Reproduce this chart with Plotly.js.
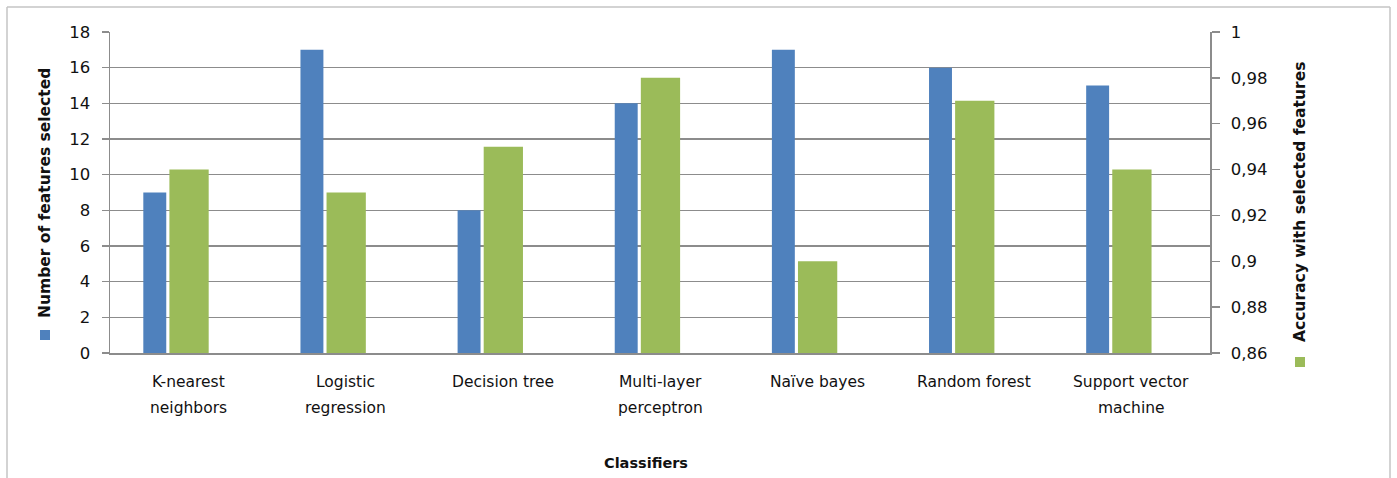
<!DOCTYPE html>
<html>
<head>
<meta charset="utf-8">
<script src="https://cdn.plot.ly/plotly-3.0.1.min.js"></script>
<style>
  html, body { margin: 0; padding: 0; background: #ffffff; }
  #chart { width: 1397px; height: 478px; }
</style>
</head>
<body>
<div id="chart"></div>
<script>
// Classifier names, split into the lines shown under each group
const categoryLines = [
  ["K-nearest", "neighbors"],
  ["Logistic", "regression"],
  ["Decision tree"],
  ["Multi-layer", "perceptron"],
  ["Naïve bayes"],
  ["Random forest"],
  ["Support vector", "machine"]
];
const categories = categoryLines.map(l => l.join(" "));

// Number of features kept by each classifier (left axis)
const featuresSelected = [9, 17, 8, 14, 17, 16, 15];
// Accuracy reached with those features (right axis)
const accuracy = [0.94, 0.93, 0.95, 0.98, 0.90, 0.97, 0.94];

// Axis ticks
const leftTicks = [0, 2, 4, 6, 8, 10, 12, 14, 16, 18];
const rightTicks = [0.86, 0.88, 0.9, 0.92, 0.94, 0.96, 0.98, 1];
const rightTickText = ["0,86", "0,88", "0,9", "0,92", "0,94", "0,96", "0,98", "1"];

const leftTitle = "Number of features selected";
const rightTitle = "Accuracy with selected features";
const xTitle = "Classifiers";

const BLUE = "#4F81BD";
const GREEN = "#9BBB59";
const GRID = "#8C8C8C";
const TEXT = "#111111";
const FONT = "DejaVu Sans, sans-serif";

// plot-area geometry in pixels (used to place the frame and keys in paper units)
const L = 110, R = 1210, T = 32, B = 353;
const px = x => (x - L) / (R - L);
const py = y => (B - y) / (B - T);

const traces = [
  {
    type: "bar",
    name: leftTitle,
    x: categories,
    y: featuresSelected,
    yaxis: "y",
    offset: -0.288,
    width: 0.146,
    marker: { color: BLUE },
    hoverinfo: "x+y"
  },
  {
    type: "bar",
    name: rightTitle,
    x: categories,
    y: accuracy,
    yaxis: "y2",
    offset: -0.122,
    width: 0.25,
    marker: { color: GREEN },
    hoverinfo: "x+y"
  }
];

const annotations = [];
categoryLines.forEach((lines, i) => {
  const ys = lines.length === 2 ? [py(382), py(408)] : [py(382)];
  lines.forEach((line, j) => {
    annotations.push({
      x: categories[i], xref: "x",
      y: ys[j], yref: "paper",
      text: line, showarrow: false,
      xanchor: "center", yanchor: "middle",
      font: { family: FONT, size: 15.5, color: TEXT }
    });
  });
});

annotations.push({
  x: px(646), xref: "paper", y: py(463), yref: "paper",
  text: "<b>" + xTitle + "</b>", showarrow: false,
  xanchor: "center", yanchor: "middle",
  font: { family: FONT, size: 14.5, color: TEXT }
});
annotations.push({
  x: px(45), xref: "paper", y: py(193), yref: "paper",
  text: "<b>" + leftTitle + "</b>",
  textangle: -90, showarrow: false,
  xanchor: "center", yanchor: "middle",
  font: { family: FONT, size: 15.5, color: TEXT }
});
annotations.push({
  x: px(1300), xref: "paper", y: py(202), yref: "paper",
  text: "<b>" + rightTitle + "</b>",
  textangle: -90, showarrow: false,
  xanchor: "center", yanchor: "middle",
  font: { family: FONT, size: 15.5, color: TEXT }
});

// light outer frame of the chart
const frame = { type: "line", xref: "paper", yref: "paper", line: { color: "#C4C4C4", width: 1.5 } };
const shapes = [
  Object.assign({}, frame, { x0: px(7), x1: px(1390), y0: py(7), y1: py(7) }),
  Object.assign({}, frame, { x0: px(7), x1: px(7), y0: py(7), y1: py(480) }),
  Object.assign({}, frame, { x0: px(1390), x1: px(1390), y0: py(7), y1: py(480) }),
  // colour keys beside the axis titles
  { type: "rect", xref: "paper", yref: "paper", x0: px(40), x1: px(50), y0: py(340), y1: py(330),
    fillcolor: BLUE, line: { width: 0 } },
  { type: "rect", xref: "paper", yref: "paper", x0: px(1295), x1: px(1305), y0: py(367), y1: py(357),
    fillcolor: GREEN, line: { width: 0 } }
];

const layout = {
  width: 1397,
  height: 478,
  margin: { l: L, r: 1397 - R, t: T, b: 478 - B },
  paper_bgcolor: "#ffffff",
  plot_bgcolor: "#ffffff",
  showlegend: false,
  barmode: "overlay",
  font: { family: FONT, size: 16, color: TEXT },
  xaxis: {
    type: "category",
    range: [-0.5, 6.5],
    showticklabels: false,
    showgrid: false,
    zeroline: false,
    showline: true,
    linecolor: GRID,
    linewidth: 1.5,
    ticks: ""
  },
  yaxis: {
    range: [0, 18],
    tickvals: leftTicks,
    showgrid: true,
    gridcolor: GRID,
    gridwidth: 1.5,
    zeroline: false,
    showline: true,
    linecolor: GRID,
    linewidth: 1.5,
    ticks: "outside",
    ticklen: 7,
    tickwidth: 1.5,
    tickcolor: GRID,
    ticklabelstandoff: 8,
    tickfont: { family: FONT, size: 16.5, color: TEXT }
  },
  yaxis2: {
    overlaying: "y",
    side: "right",
    range: [0.86, 1],
    tickvals: rightTicks,
    ticktext: rightTickText,
    showgrid: false,
    zeroline: false,
    showline: true,
    linecolor: GRID,
    linewidth: 1.5,
    ticks: "outside",
    ticklen: 8,
    tickwidth: 1.5,
    tickcolor: GRID,
    ticklabelstandoff: 8,
    tickfont: { family: FONT, size: 16.5, color: TEXT }
  },
  annotations: annotations,
  shapes: shapes
};

Plotly.newPlot("chart", traces, layout, { displayModeBar: false, staticPlot: true });
</script>
</body>
</html>
